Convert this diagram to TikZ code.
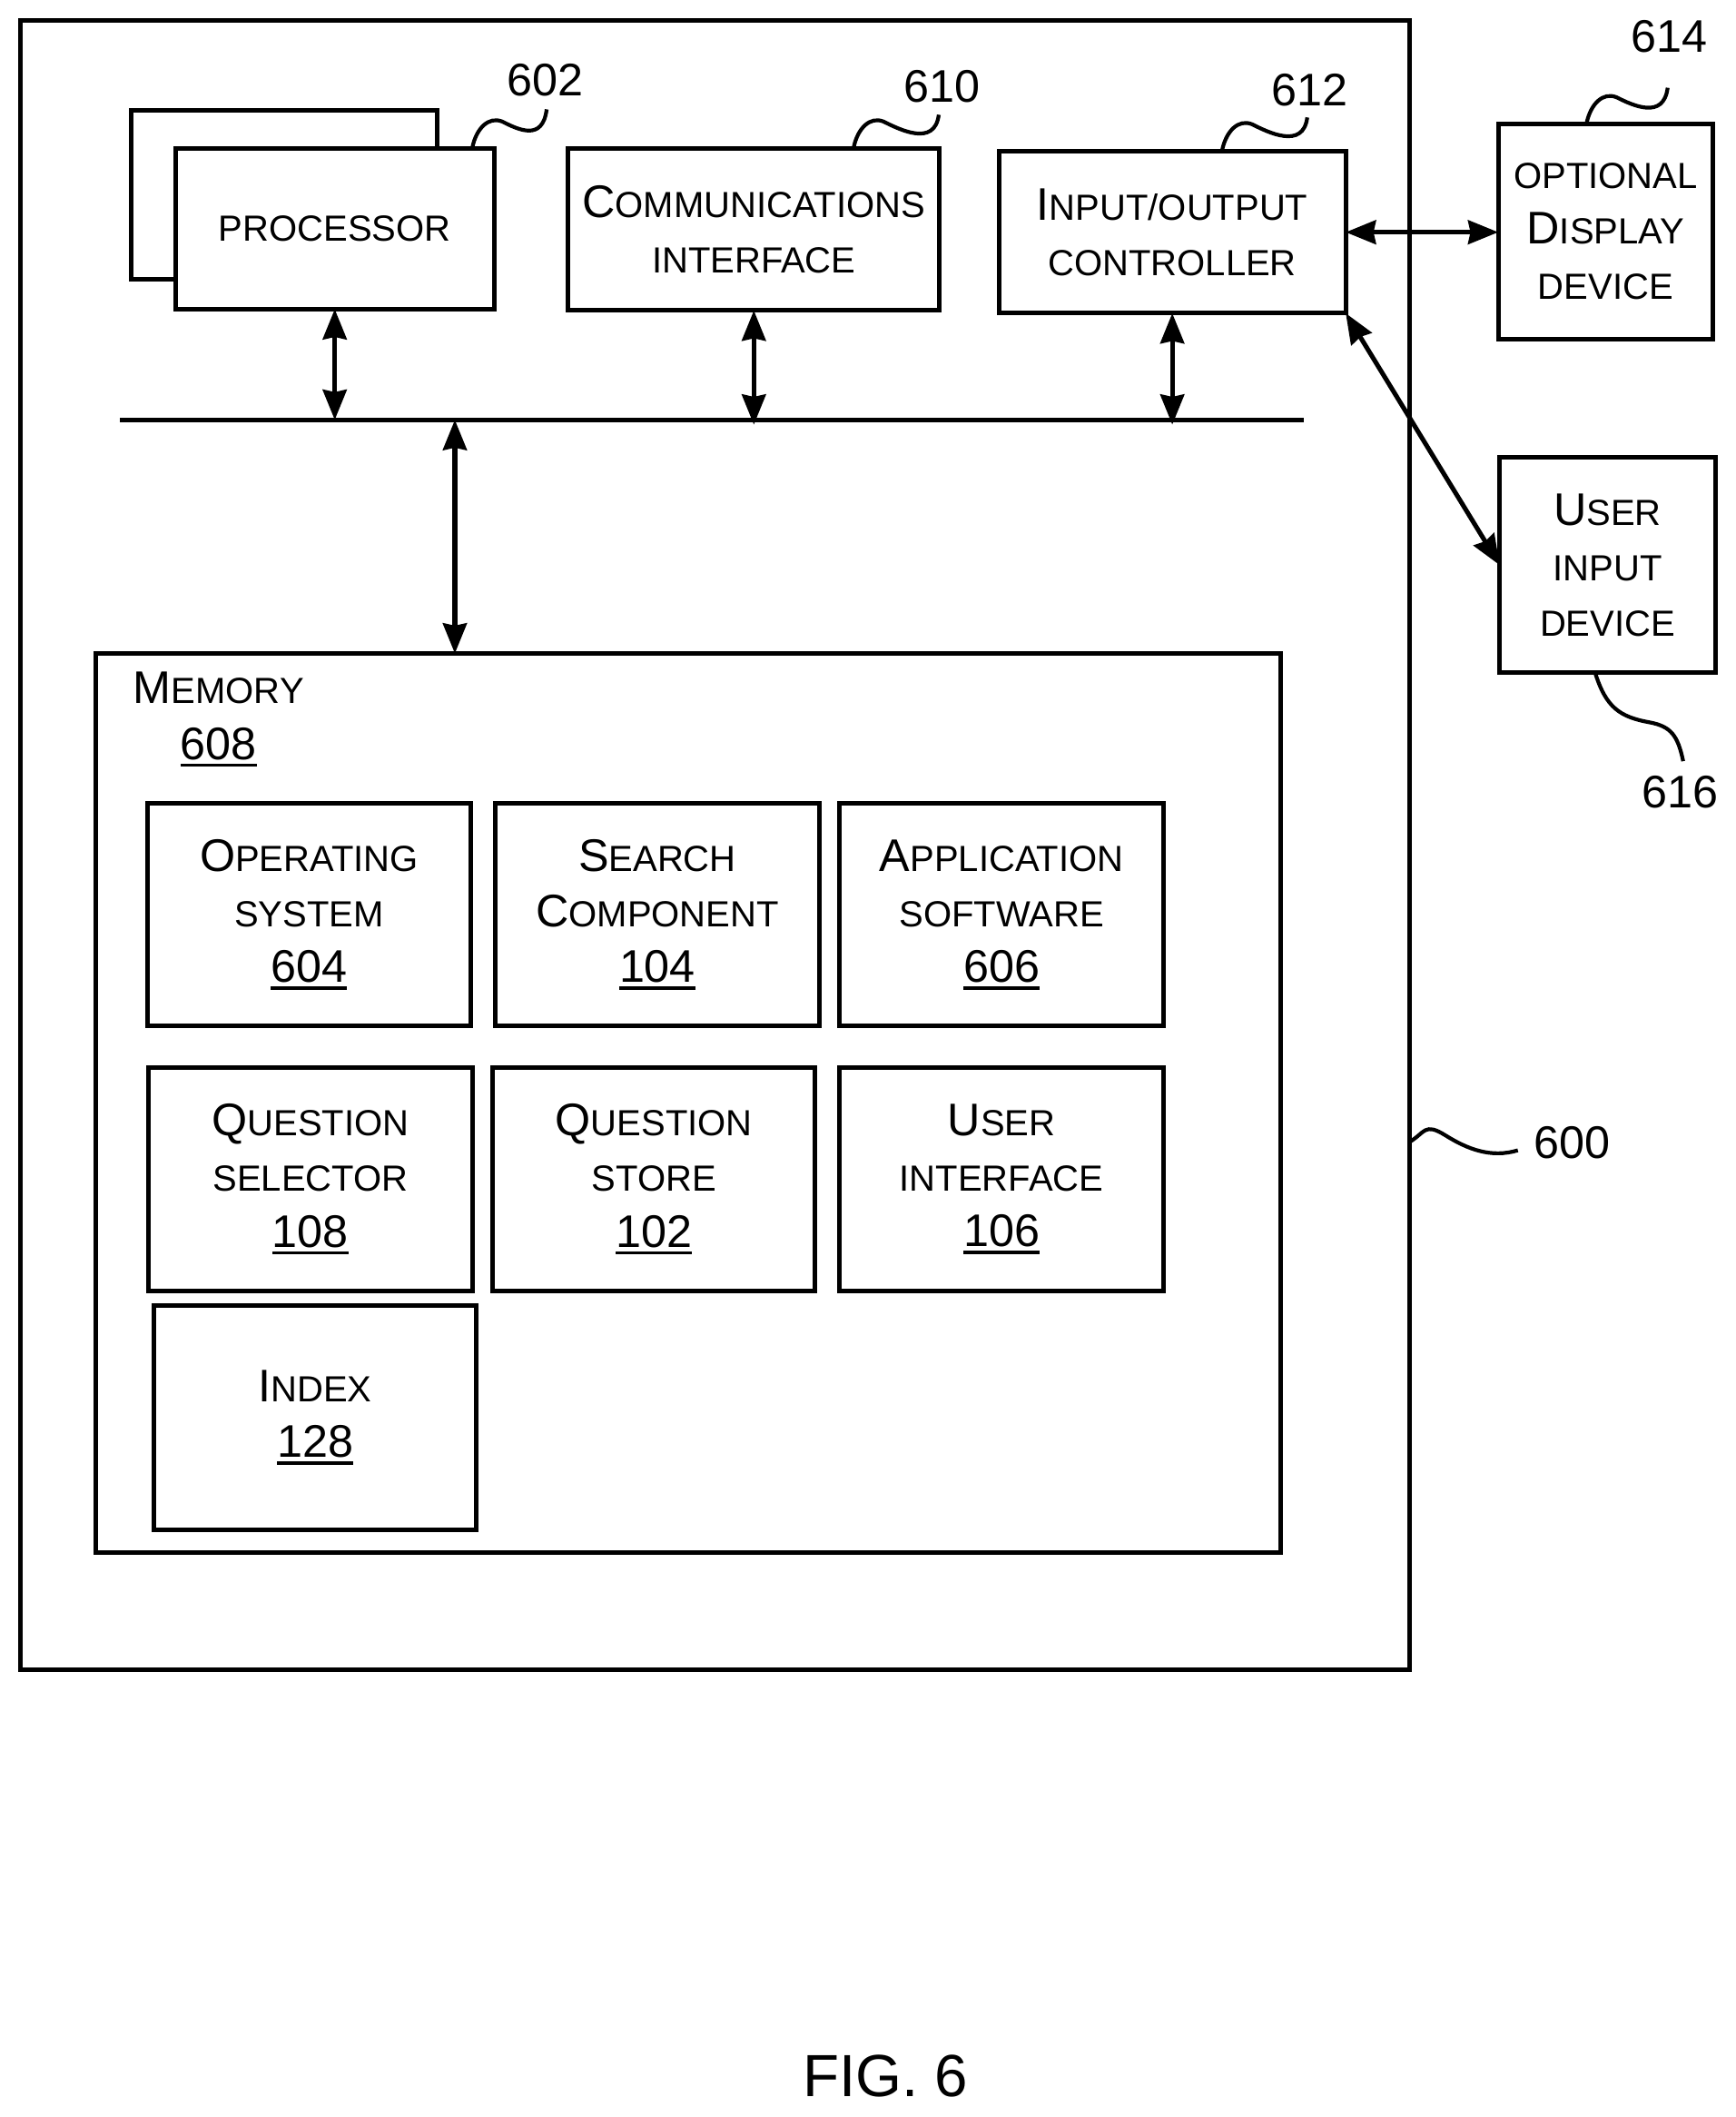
\documentclass[tikz,border=0pt]{standalone}
\usepackage{fontspec}
\setmainfont{Liberation Sans}
\usetikzlibrary{arrows.meta,calc}
\def\un{0.0299cm}
\newcommand{\lc}[1]{{\fontsize{22.9}{35}\selectfont #1}}
\newcommand{\unum}[1]{\setbox0\hbox{#1}\rlap{\rule[-4.8pt]{\wd0}{2.2pt}}\box0}
\newcommand{\leadwave}[2]{\draw[lead] (#1) .. controls +(3,-14) and +(-10,-4) .. ++(22,-19) .. controls +(12,6) and +(-3,24) .. ++(#2);}
\tikzset{>={Stealth[length=19pt,width=15pt,inset=1.5pt]}}
\tikzset{
    blk/.style 2 args={draw,line width=2.9pt,fill=white,inner sep=0pt,outer sep=0pt,align=center,minimum width=#1*\un,minimum height=#2*\un,
        font=\fontsize{28.8}{35}\selectfont},
    lbl/.style={inner sep=0pt,align=center,font=\fontsize{28.8}{35}\selectfont},
    lead/.style={line width=2.4pt},
    link/.style={<->,line width=2.9pt},
}
\begin{document}
\begin{tikzpicture}[x=\un,y=-\un]
    \useasboundingbox (0,0) rectangle (1286,1568);

    \node[blk={1029}{1222}] (comp) at (529.5,626) {};
    \node[blk={227}{125}] (procback) at (210.5,144.5) {};
    \node[blk={236}{119}] (proc) at (248,169.5) {\lc{PROCESSOR}};
    \node[blk={275}{120}] (comm) at (558.5,170) {C\lc{OMMUNICATIONS}\\\lc{INTERFACE}};
    \node[blk={257}{120}] (ioctl) at (868.5,172) {I\lc{NPUT/OUTPUT}\\\lc{CONTROLLER}};
    \node[blk={159}{159}] (disp) at (1189.5,171.5) {\lc{OPTIONAL}\\D\lc{ISPLAY}\\\lc{DEVICE}};
    \node[blk={160}{159}] (uinput) at (1191,418.5) {U\lc{SER}\\\lc{INPUT}\\\lc{DEVICE}};

    \node[blk={878}{666}] (mem) at (510,817) {};
    \node[lbl] (memlabel) at (162,533) {M\lc{EMORY}\\\unum{608}};

    \node[blk={240}{165}] (os) at (229,677.5) {O\lc{PERATING}\\\lc{SYSTEM}\\\unum{604}};
    \node[blk={240}{165}] (search) at (487,677.5) {S\lc{EARCH}\\C\lc{OMPONENT}\\\unum{104}};
    \node[blk={240}{165}] (appsw) at (742,677.5) {A\lc{PPLICATION}\\\lc{SOFTWARE}\\\unum{606}};
    \node[blk={240}{165}] (qsel) at (230,873.5) {Q\lc{UESTION}\\\lc{SELECTOR}\\\unum{108}};
    \node[blk={239}{165}] (qstore) at (484.5,873.5) {Q\lc{UESTION}\\\lc{STORE}\\\unum{102}};
    \node[blk={240}{165}] (uif) at (742,873.5) {U\lc{SER}\\\lc{INTERFACE}\\\unum{106}};
    \node[blk={239}{166}] (idx) at (233.5,1050) {I\lc{NDEX}\\\unum{128}};

    % bus
    \coordinate (busL) at (89,311);
    \coordinate (busR) at (966,311);
    \coordinate (busM) at (337,311);
    \draw[line width=2.9pt] (busL) -- (busR);

    \draw[link] (proc.south) -- (proc.south |- busL);
    \draw[link,shorten >=-3pt] (comm.south) -- (comm.south |- busL);
    \draw[link,shorten >=-3pt] (ioctl.south) -- (ioctl.south |- busL);
    \draw[link] (busM) -- (busM |- mem.north);
    \draw[link] (ioctl.east) -- (ioctl.east -| disp.west);
    \draw[link] (ioctl.south east) -- (uinput.west);

    % reference numerals
    \node[lbl] (n602) at (404,59) {602};
    \node[lbl] (n610) at (698,64) {610};
    \node[lbl] (n612) at (970,67) {612};
    \node[lbl] (n614) at (1237,27) {614};
    \node[lbl] (n616) at (1245,587) {616};
    \node[lbl] (n600) at (1165,846) {600};
    \leadwave{$(proc.north east)+(-16,-1)$}{33,-9}
    \leadwave{$(comm.north)+(74,-1)$}{41,-5}
    \leadwave{$(ioctl.north)+(37,-1)$}{41,-5}
    \leadwave{$(disp.north)+(-14,-1)$}{38,-7}
    \draw[lead] ($(uinput.south)+(-9,1)$) .. controls +(8,25) and +(-22,-4) .. ++(40,36) .. controls +(16,3) and +(-4,-19) .. ($(n616.north)+(2,-11)$);
    \draw[lead] (comp.east |- n600) .. controls +(12,-7) and +(-16,-10) .. ++(27,-5) .. controls +(16,10) and +(-20,6) .. ($(n600.west)+(-12,6)$);

    \node[inner sep=0pt,font=\fontsize{37.5}{40}\selectfont] (figlabel) at (656,1538) {FIG. 6};
\end{tikzpicture}
\end{document}
